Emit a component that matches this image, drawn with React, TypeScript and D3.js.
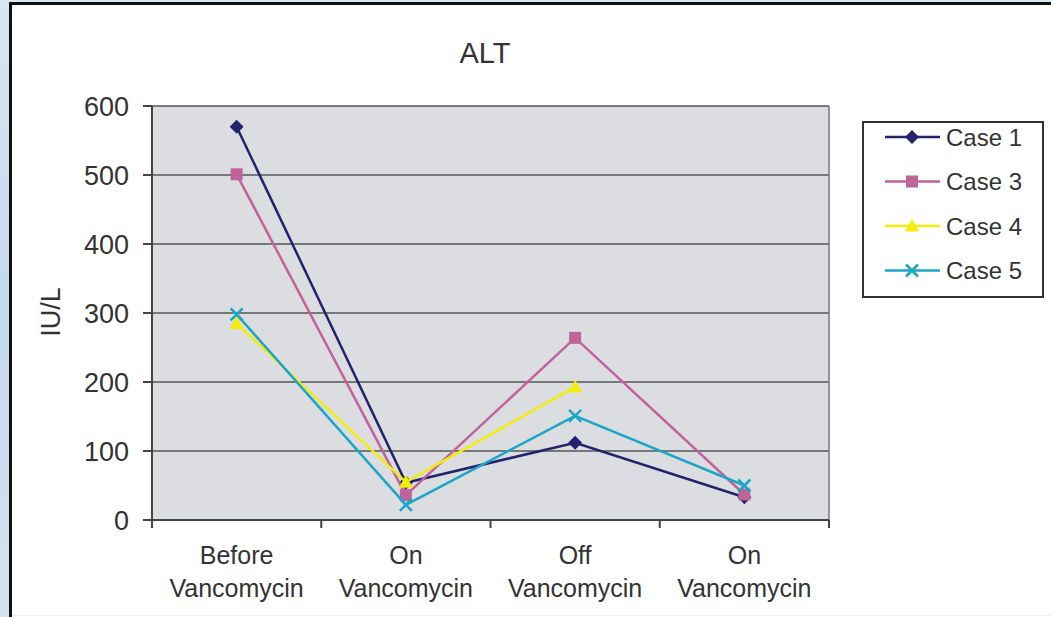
import React from "react";
import * as d3 from "d3";

const categories = ["Before\nVancomycin", "On\nVancomycin", "Off\nVancomycin", "On \nVancomycin"];
const yTicks = [0, 100, 200, 300, 400, 500, 600];
const case1 = [570, 54, 112, 33];
const case3 = [501, 36, 264, 37];
const case4: (number | null)[] = [285, 55, 193, null];
const case5 = [298, 22, 151, 50];

const seriesNames = ["Case 1", "Case 3", "Case 4", "Case 5"];
const seriesColors = ["#22226e", "#c0639b", "#f2ee0a", "#1ba6c6"];
const seriesMarkers = ["diamond", "square", "triangle", "x"];
const seriesData = [case1, case3, case4, case5];

const W = 1051, H = 617;
const plot = { left: 152, right: 829, top: 106, bottom: 520 };
const FONT = "'Liberation Sans', Arial, sans-serif";

function Marker({ type, x, y, color }: { type: string; x: number; y: number; color: string }) {
  if (type === "diamond") {
    const s = 7;
    return <path d={`M${x},${y - s}L${x + s},${y}L${x},${y + s}L${x - s},${y}Z`} fill={color} />;
  }
  if (type === "square") {
    const s = 6;
    return <rect x={x - s} y={y - s} width={2 * s} height={2 * s} fill={color} />;
  }
  if (type === "triangle") {
    const s = 7;
    return <path d={`M${x},${y - s}L${x + s},${y + s * 0.8}L${x - s},${y + s * 0.8}Z`} fill={color} />;
  }
  const s = 6;
  return (
    <path d={`M${x - s},${y - s}L${x + s},${y + s}M${x - s},${y + s}L${x + s},${y - s}`} stroke={color} strokeWidth={2.5} fill="none" />
  );
}

export default function App() {
  const x = d3.scaleBand<number>().domain(d3.range(categories.length)).range([plot.left, plot.right]);
  const y = d3.scaleLinear().domain([0, 600]).range([plot.bottom, plot.top]);
  const cx = (i: number) => (x(i) as number) + x.bandwidth() / 2;
  const line = d3
    .line<number | null>()
    .defined((d) => d !== null)
    .x((_, i) => cx(i))
    .y((d) => y(d as number));

  const legend = { x: 863, y: 122, w: 180, h: 175 };

  return (
    <svg width={W} height={H} style={{ position: "absolute", left: 0, top: 0 }} fontFamily={FONT}>
      <defs>
        <linearGradient id="bluebg" x1="0" y1="0" x2="0" y2="1">
          <stop offset="0" stopColor="#d7e6f3" />
          <stop offset="0.5" stopColor="#c4d9ec" />
          <stop offset="1" stopColor="#d3e3f1" />
        </linearGradient>
      </defs>
      <rect x={0} y={0} width={W} height={H} fill="url(#bluebg)" />
      <rect x={11} y={4} width={W - 11} height={H - 4} fill="#ffffff" />
      <line x1={9} y1={3.5} x2={W} y2={3.5} stroke="#111" strokeWidth={3} />
      <line x1={10.5} y1={2} x2={10.5} y2={617} stroke="#111" strokeWidth={3} />
      <line x1={12} y1={615.5} x2={W} y2={615.5} stroke="#ececec" strokeWidth={1} />

      {/* plot area */}
      <rect x={plot.left} y={plot.top} width={plot.right - plot.left} height={plot.bottom - plot.top} fill="#dcdde1" />
      {yTicks.map((t) => (
        <line key={"g" + t} x1={plot.left} x2={plot.right} y1={y(t)} y2={y(t)} stroke="#555" strokeWidth={1.5} />
      ))}
      <line x1={plot.right} x2={plot.right} y1={plot.top} y2={plot.bottom} stroke="#777" strokeWidth={1.5} />
      {/* axes */}
      <line x1={plot.left} x2={plot.left} y1={plot.top} y2={plot.bottom} stroke="#444" strokeWidth={2} />
      <line x1={plot.left} x2={plot.right} y1={plot.bottom} y2={plot.bottom} stroke="#444" strokeWidth={2} />
      {yTicks.map((t) => (
        <g key={"yt" + t}>
          <line x1={plot.left - 9} x2={plot.left} y1={y(t)} y2={y(t)} stroke="#444" strokeWidth={2} />
          <text x={plot.left - 23} y={y(t)} dy="0.36em" textAnchor="end" fontSize={27} fill="#333">
            {t}
          </text>
        </g>
      ))}
      {d3.range(categories.length + 1).map((i) => {
        const xx = i < categories.length ? (x(i) as number) : plot.right;
        return <line key={"xt" + i} x1={xx} x2={xx} y1={plot.bottom} y2={plot.bottom + 8} stroke="#444" strokeWidth={2} />;
      })}
      {categories.map((c, i) => (
        <text key={"xl" + i} x={cx(i)} y={564} textAnchor="middle" fontSize={25} fill="#333">
          {c.split("\n").map((s, j) => (
            <tspan key={j} x={cx(i)} dy={j === 0 ? 0 : 33}>
              {s.trim()}
            </tspan>
          ))}
        </text>
      ))}

      {/* title & axis label */}
      <text x={485} y={63} textAnchor="middle" fontSize={29} fill="#333">ALT</text>
      <text transform="translate(60,312) rotate(-90)" textAnchor="middle" fontSize={27} fill="#333">IU/L</text>

      {/* series */}
      {seriesData.map((data, si) => (
        <g key={"s" + si}>
          <path d={line(data) || ""} fill="none" stroke={seriesColors[si]} strokeWidth={2.5} />
          {data.map((v, i) =>
            v === null ? null : <Marker key={i} type={seriesMarkers[si]} x={cx(i)} y={y(v)} color={seriesColors[si]} />
          )}
        </g>
      ))}

      {/* legend */}
      <rect x={legend.x} y={legend.y} width={legend.w} height={legend.h} fill="#fff" stroke="#333" strokeWidth={2} />
      {seriesNames.map((n, i) => {
        const ly = 137 + i * 44.5;
        return (
          <g key={"lg" + i}>
            <line x1={885} x2={940} y1={ly} y2={ly} stroke={seriesColors[i]} strokeWidth={2.5} />
            <Marker type={seriesMarkers[i]} x={912} y={ly} color={seriesColors[i]} />
            <text x={946} y={ly} dy="0.36em" fontSize={24} fill="#333">{n}</text>
          </g>
        );
      })}
    </svg>
  );
}
